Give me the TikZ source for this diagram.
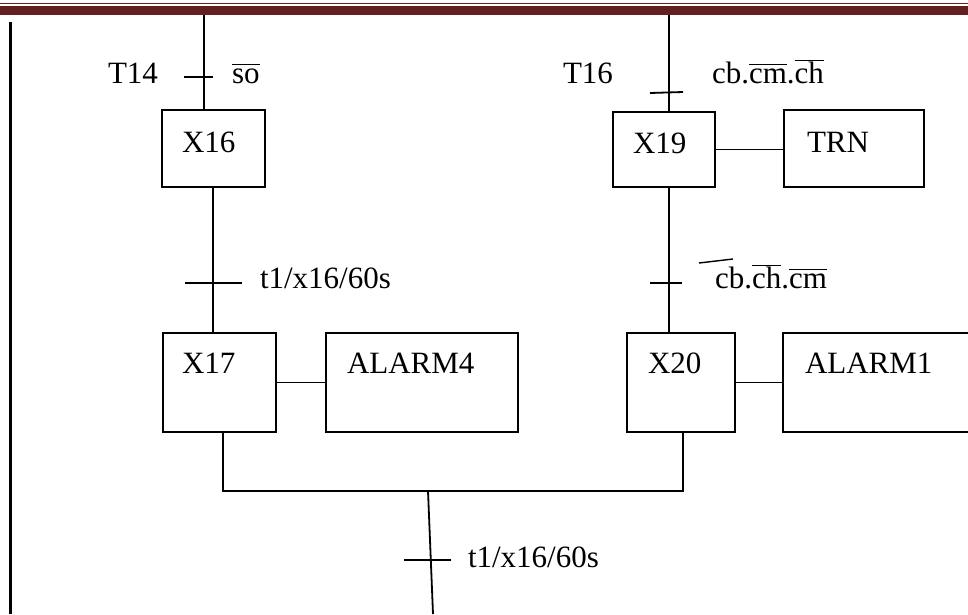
\documentclass[tikz,border=0pt]{standalone}
\usepackage{fontspec}
\setmainfont{Liberation Serif}
\definecolor{entete}{RGB}{99,32,31}
\newcommand{\barre}[1]{$\overline{\vphantom{T}\hbox{#1}}$}
\begin{document}
\begin{tikzpicture}[x=1pt,y=-1pt,line width=1.8pt,every node/.style={font=\fontsize{31}{36}\selectfont,inner sep=0pt,outer sep=0pt},
  etape/.style={draw,line width=1.8pt,rectangle},
  texte/.style={anchor=base west}]
  \useasboundingbox (0,0) rectangle (968,614);
  \clip (0,0) rectangle (968,614);
  % bandeau
  \fill[entete] (0,2.8) rectangle (968,4.2);
  \fill[entete] (0,6) rectangle (968,15);
  \draw[line width=2.2pt] (10.5,22)--(10.5,614);
  % etapes
  \node[etape,minimum width=103,minimum height=77] (x16) at (213.5,148.5) {};
  \node[etape,minimum width=102,minimum height=75] (x19) at (664,149.5) {};
  \node[etape,minimum width=140,minimum height=77] (trn) at (854,148.5) {};
  \node[etape,minimum width=113,minimum height=99] (x17) at (219.5,382.5) {};
  \node[etape,minimum width=192,minimum height=99] (al4) at (422,382.5) {};
  \node[etape,minimum width=108,minimum height=99] (x20) at (681,382.5) {};
  \node[etape,minimum width=217,minimum height=99] (al1) at (891.5,382.5) {};
  \coordinate (g1) at (204,15);
  \coordinate (g2) at (213,0);
  \coordinate (g3) at (223,491);
  \coordinate (d1) at (669,15);
  \coordinate (d2) at (683,491);
  \coordinate (m1) at (428,491);
  \coordinate (m2) at (433,614);
  % liaisons
  \draw (g1)--(x16.north -| g1);
  \draw (x16.south -| g2)--(x17.north -| g2);
  \draw (x17.south -| g3)--(g3)--(d2)--(x20.south -| d2);
  \draw (d1)--(x19.north -| d1);
  \draw (x19.south -| d1)--(x20.north -| d1);
  \draw (m1)--(m2);
  \draw (x19.east)--(x19.east -| trn.west);
  \draw (x17.east)--(al4.west);
  \draw (x20.east)--(al1.west);
  % receptivites
  \draw (184,77)--(213,77);
  \draw (650,93)--(683,92);
  \draw (185,283)--(242,283);
  \draw (650,283)--(682,283);
  \draw (404,560)--(451,560);
  % textes
  \node[texte] (t14) at (108,83) {T14};
  \node[texte] (c14) at (232,83) {\barre{so}};
  \node[texte] (t16) at (563,83) {T16};
  \node[texte] (c16) at (712,83) {cb.\barre{cm}.\barre{ch}};
  \node[texte] (l16) at (182,152) {X16};
  \node[texte] (l19) at (633,153) {X19};
  \node[texte] (ltrn) at (807,152) {TRN};
  \node[texte] (c17) at (260,288) {t1/x16/60s};
  \node[texte] (c20) at (715,288) {cb.\barre{ch}.\barre{cm}};
  \draw[line width=1.4pt] ([shift={(-16,-25)}]c20.base west)--([shift={(18,-29)}]c20.base west);
  \node[texte] (l17) at (182,373) {X17};
  \node[texte] (la4) at (347,373) {ALARM4};
  \node[texte] (l20) at (648,373) {X20};
  \node[texte] (la1) at (805,373) {ALARM1};
  \node[texte] (cfin) at (468,567) {t1/x16/60s};
\end{tikzpicture}
\end{document}
